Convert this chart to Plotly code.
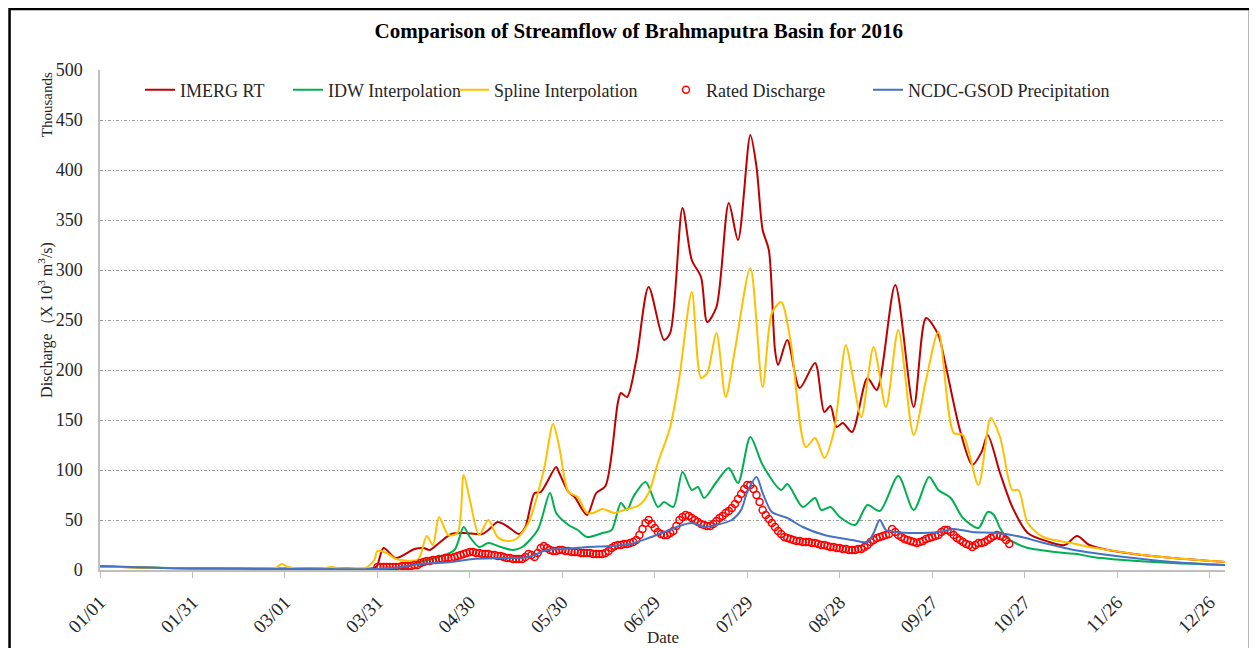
import plotly.graph_objects as go
import pandas as pd

# day offsets from 2016-01-01 and discharge in thousands of m3/s
imerg_days = [0, 20, 40, 60, 80, 89, 90, 92, 96, 102, 105, 107, 110, 114, 118, 124, 126, 129, 132, 136, 138,
              141, 143, 148, 149, 152, 154, 158, 161, 164, 168, 169, 171, 174, 178, 183, 185, 189, 192, 195,
              197, 200, 204, 207, 211, 213, 215, 217, 219, 220, 223, 227, 232, 235, 237, 239, 241, 244, 249,
              252, 258, 264, 268, 272, 274, 279, 283, 286, 288, 292, 296, 301, 308, 313, 317, 321, 327, 338,
              348, 365]
imerg_vals = [3.5, 2, 1.5, 1.5, 1.5, 2, 5, 22, 12, 21, 22, 20, 27, 36, 37, 36, 40, 48, 44, 36, 43,
              77, 78, 103, 97, 78, 73, 55, 77, 84, 167, 177, 173, 210, 283, 230, 237, 362, 310, 293,
              248, 263, 367, 330, 435, 403, 340, 320, 220, 205, 230, 182, 207, 158, 164, 143, 147, 138, 192,
              180, 285, 163, 252, 235, 210, 140, 105, 118, 135, 97, 63, 37, 28, 25, 34, 25, 20, 15,
              12, 8]

idw_days = [0, 30, 60, 90, 98, 104, 110, 115, 118, 120, 123, 126, 130, 134, 137, 142, 146, 148, 152, 155,
            158, 163, 166, 169, 171, 173, 177, 181, 183, 186, 189, 192, 194, 196, 200, 204, 207, 211, 215,
            221, 223, 228, 232, 234, 237, 240, 245, 249, 253, 259, 264, 269, 272, 276, 280, 285, 288, 290,
            292, 294, 297, 301, 305, 313, 317, 322, 332, 348, 365]
idw_vals = [3.5, 1.5, 1, 1, 2, 8, 13, 20, 43, 33, 23, 27, 23, 20, 23, 40, 77, 57, 45, 40,
            33, 37, 40, 67, 60, 73, 88, 63, 68, 63, 98, 80, 83, 72, 88, 102, 87, 133, 105,
            80, 86, 63, 72, 60, 63, 53, 45, 65, 59, 94, 60, 93, 80, 72, 52, 42, 58, 55,
            42, 33, 27, 22, 20, 17, 16, 13, 10, 7, 5]

spline_days = [0, 20, 55, 57, 59, 61, 64, 72, 75, 78, 86, 89, 90, 93, 96, 103, 104, 106, 108, 110, 113,
               116, 118, 120, 123, 126, 129, 132, 135, 139, 144, 147, 149, 152, 155, 158, 160, 163, 167,
               170, 175, 178, 181, 185, 188, 192, 195, 197, 200, 203, 206, 211, 215, 218, 221, 224, 229,
               232, 235, 238, 242, 244, 247, 251, 255, 259, 264, 268, 272, 277, 280, 285, 289, 292, 296,
               298, 301, 306, 315, 321, 327, 338, 348, 365]
spline_vals = [3.5, 2, 1.5, 2, 6, 3, 1.5, 1.5, 3, 1.5, 2, 10, 19, 17, 11, 10, 15, 34, 25, 53, 35,
               37, 95, 70, 35, 50, 33, 29, 31, 47, 100, 146, 123, 78, 73, 57, 57, 61, 57,
               60, 65, 77, 107, 143, 193, 278, 192, 197, 237, 173, 220, 302, 183, 257, 268, 230, 123,
               132, 112, 137, 225, 197, 153, 223, 163, 240, 135, 190, 238, 137, 135, 85, 152, 133, 80,
               80, 47, 33, 27, 23, 20, 15, 12, 8]

rated_start = 90
rated_vals = [3, 3, 3, 3, 3, 3, 3, 3, 4, 4, 4, 4, 5, 5,
              7, 8, 9, 9, 10, 10, 11, 11, 12, 12, 12, 13, 14, 15, 16, 17, 18, 18, 17, 17,
              16, 16, 16, 15, 15, 14, 14, 13, 12, 12, 11, 11, 11, 11,
              13, 16, 15, 13, 17, 22, 24, 22, 20, 19, 19, 20, 20, 19, 19, 18, 18, 18, 17, 17,
              17, 17, 16, 16, 16, 16, 17, 19, 22, 24, 25, 25, 26, 26, 27, 28, 30, 35, 41, 47,
              50, 46, 42, 38, 36, 35, 35, 37, 39, 44, 50, 53, 55, 54, 52, 50, 48, 46, 45, 44,
              44, 46, 49, 52, 54, 57, 59, 62, 66, 71, 76, 81, 85, 85, 81, 75, 68, 60, 55, 51,
              47, 43, 39, 36, 33, 32, 31, 30, 29, 29, 28, 28, 28, 27, 27, 26, 25, 25, 24, 23,
              23, 22, 22, 21, 21, 20, 20, 20, 21, 21, 23, 25, 28, 30, 32, 33, 34, 35, 36, 41,
              38, 35, 33, 31, 30, 29, 28, 27, 28, 29, 31, 32, 33, 34, 35, 38, 40, 40, 38, 35,
              32, 30, 28, 26, 25, 23, 25, 27, 27, 28, 30, 32, 34, 35, 34, 33, 30, 26]

ncdc_days = [0, 15, 30, 60, 90, 95, 104, 114, 121, 130, 139, 145, 151, 158, 166, 172, 178, 183, 188, 192,
             196, 200, 205, 208, 210, 213, 215, 218, 223, 228, 235, 244, 249, 251, 253, 255, 258, 265,
             272, 277, 283, 291, 299, 305, 316, 327, 348, 365]
ncdc_vals = [4, 2.5, 1.5, 1, 1, 2, 6, 8, 11, 12, 13, 20, 21, 23, 24, 26, 32, 38, 44, 47,
             43, 45, 50, 60, 78, 93, 77, 58, 52, 43, 35, 30, 28, 37, 50, 40, 38, 37,
             38, 41, 38, 37, 33, 28, 20, 15, 8, 5]

y_ticks = list(range(0, 501, 50))

base = pd.Timestamp("2016-01-01")


def to_dates(days):
    return base + pd.to_timedelta(days, unit="D")


FONT = "Liberation Serif, Times New Roman, serif"
TXT = "#262626"

fig = go.Figure()

lines = [
    ("IMERG RT", imerg_days, imerg_vals, "#C00000", "legend"),
    ("IDW Interpolation", idw_days, idw_vals, "#00B050", "legend2"),
    ("Spline Interpolation", spline_days, spline_vals, "#FFC000", "legend3"),
]
for name, d, v, col, lg in lines:
    fig.add_trace(go.Scatter(
        x=to_dates(d), y=v, name=name, mode="lines", legend=lg,
        line=dict(color=col, width=2, shape="spline", smoothing=0.8),
    ))

rated_days = list(range(rated_start, rated_start + len(rated_vals)))
fig.add_trace(go.Scatter(
    x=to_dates(rated_days), y=rated_vals, name="Rated Discharge", mode="markers", legend="legend4",
    marker=dict(symbol="circle-open", size=7, color="#FF0000", line=dict(width=1.5, color="#FF0000")),
))

fig.add_trace(go.Scatter(
    x=to_dates(ncdc_days), y=ncdc_vals, name="NCDC-GSOD Precipitation", mode="lines", legend="legend5",
    line=dict(color="#4472C4", width=2, shape="spline", smoothing=0.8),
))

# outer frame
fig.add_shape(type="rect", xref="paper", yref="paper",
              x0=-0.0804, x1=1.0222, y0=-0.2, y1=1.122,
              line=dict(color="black", width=2.5), layer="below")

fig.add_annotation(text="Thousands", xref="paper", yref="paper",
                   x=-0.047, y=0.93, xanchor="center", yanchor="middle",
                   textangle=-90, showarrow=False,
                   font=dict(family=FONT, size=15, color=TXT))
fig.add_annotation(text="Discharge（X 10<sup>3</sup> m<sup>3</sup>/s)", xref="paper", yref="paper",
                   x=-0.049, y=0.5, xanchor="center", yanchor="middle",
                   textangle=-90, showarrow=False,
                   font=dict(family=FONT, size=16, color=TXT))
fig.add_annotation(text="Date", xref="paper", yref="paper",
                   x=0.5, y=-0.135, xanchor="center", yanchor="middle", showarrow=False,
                   font=dict(family=FONT, size=17, color=TXT))

legend_style = dict(orientation="h", y=0.96, xanchor="left", yanchor="middle",
                    bgcolor="rgba(0,0,0,0)", font=dict(family=FONT, size=18, color=TXT), itemwidth=30)

fig.update_layout(
    width=1249, height=640,
    margin=dict(l=92, r=32, t=62, b=78),
    paper_bgcolor="white", plot_bgcolor="white",
    font=dict(family=FONT, size=18, color=TXT),
    title=dict(text="<b>Comparison of Streamflow of Brahmaputra Basin for 2016</b>",
               x=0.505, xanchor="center", y=0.965, yanchor="middle",
               font=dict(family=FONT, size=21, color="black")),
    legend=dict(x=0.0356, **legend_style),
    legend2=dict(x=0.1671, **legend_style),
    legend3=dict(x=0.3147, **legend_style),
    legend4=dict(x=0.5031, **legend_style),
    legend5=dict(x=0.6827, **legend_style),
    showlegend=True,
    xaxis=dict(
        range=[base, base + pd.Timedelta(days=365)],
        tick0=base, dtick=30 * 86400000, tickformat="%m/%d", tickangle=-45,
        showgrid=False, showline=True, linecolor="#BFBFBF", linewidth=1.5,
        ticks="outside", ticklen=6, tickcolor="#BFBFBF", ticklabelstandoff=6,
        tickfont=dict(family=FONT, size=19, color=TXT),
        zeroline=False,
    ),
    yaxis=dict(
        range=[0, 500], tickvals=y_ticks,
        showgrid=True, gridcolor="#9A9A9A", griddash="3px,2px,1px,2px", gridwidth=1,
        showline=True, linecolor="#BFBFBF", linewidth=1.5,
        ticks="", ticklabelstandoff=12,
        tickfont=dict(family=FONT, size=18, color=TXT),
        zeroline=False,
    ),
)

fig.write_html("out.html")
